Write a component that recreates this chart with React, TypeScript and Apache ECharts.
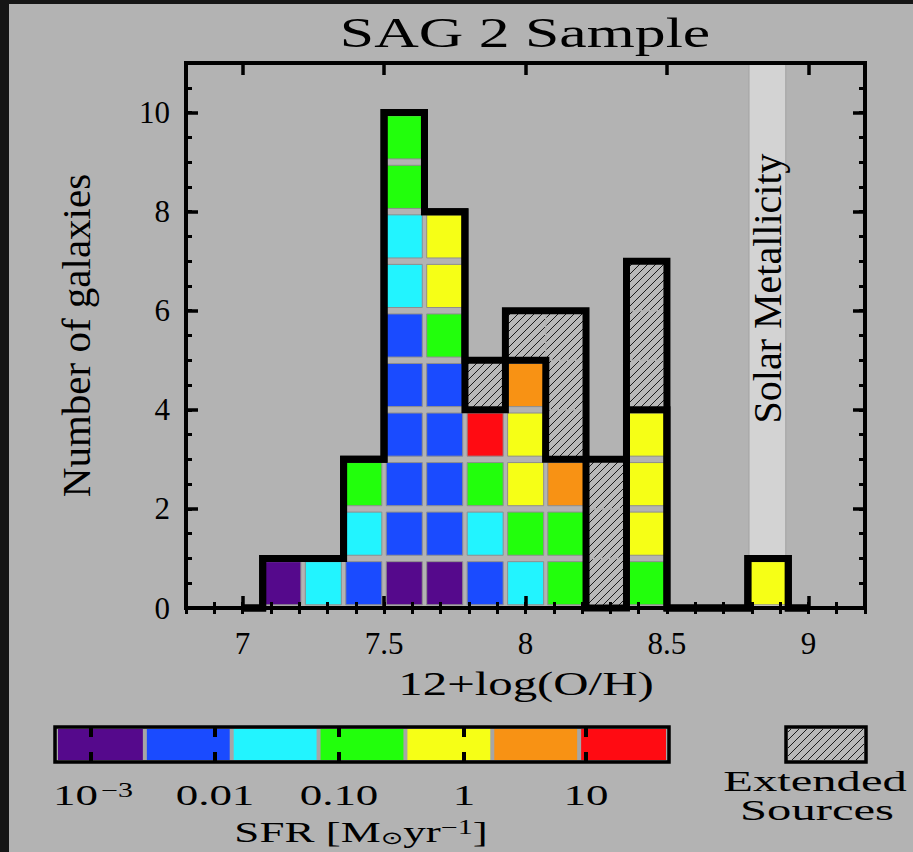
import React, { useEffect, useRef } from 'react';
import * as echarts from 'echarts';

// ---- data ----
// left edges of the 12+log(O/H) bins, and the bin width
const binLeft = [7.071, 7.214, 7.357, 7.5, 7.643, 7.786, 7.929, 8.071, 8.214, 8.357, 8.5, 8.643, 8.786];
const binWidth = 0.1429;
// SFR class of every (non-extended) galaxy in each bin, bottom to top
// 0 = 10^-3 ... 6 = highest SFR
const sfrClasses: number[][] = [
  [0],
  [2],
  [1, 2, 3],
  [0, 1, 1, 1, 1, 1, 2, 2, 3, 3],
  [0, 1, 1, 1, 1, 3, 4, 4],
  [1, 2, 3, 6],
  [2, 3, 4, 4, 5],
  [3, 3, 5],
  [],
  [3, 4, 4, 4],
  [],
  [],
  [4],
];
// extended sources stacked on top of each bin
const extendedCounts = [0, 0, 0, 0, 0, 1, 1, 3, 3, 3, 0, 0, 0];
const outlineStart = 7.0;
const outlineEnd = 9.0;
const solarBand = [8.79, 8.92];
const sfrColors = ['#55098c', '#1a4bff', '#22f4ff', '#22ff0c', '#f6ff16', '#f89214', '#ff0b12'];
const sfrTickLabels = ['10{sup|−3}', '0.01', '0.10', '1', '10'];
const xTickValues = [7, 7.5, 8, 8.5, 9];
const yTickValues = [0, 2, 4, 6, 8, 10];
const xMin = 6.8;
const xMax = 9.2;
const yMax = 11;

// ---- layout constants ----
const SERIF = '"Liberation Serif", "Times New Roman", serif';
const BG = '#b3b3b3';
const GRID = { left: 186, right: 48, top: 63, bottom: 244 };
const CB = { x0: 55, x1: 669, y0: 727, y1: 762 };
const CB_TICKS = [91, 215, 339, 464, 586];
const LEG = { x0: 786, x1: 866, y0: 727, y1: 762 };

function hatchLines(x0: number, y0: number, x1: number, y1: number, step: number, z?: number) {
  const out: any[] = [];
  for (let c = Math.ceil((x0 + y0) / step) * step; c <= x1 + y1; c += step) {
    const ax = Math.max(x0, c - y1);
    const ay = c - ax;
    const bx = Math.min(x1, c - y0);
    const by = c - bx;
    if (bx - ax > 0.5) {
      const el: any = {
        type: 'line',
        shape: { x1: ax, y1: ay, x2: bx, y2: by },
        style: { stroke: '#1c1c1c', lineWidth: 1 },
      };
      if (z !== undefined) el.z = z;
      out.push(el);
    }
  }
  return out;
}

function stepPoints(heights: number[]) {
  const pts: number[][] = [[outlineStart, 0]];
  let prev = 0;
  heights.forEach((h, i) => {
    const l = binLeft[i];
    const r = l + binWidth;
    pts.push([l, prev], [l, h], [r, h]);
    prev = h;
  });
  const lastR = binLeft[binLeft.length - 1] + binWidth;
  pts.push([lastR, 0], [outlineEnd, 0]);
  return pts;
}

export default function App() {
  const ref = useRef<HTMLDivElement>(null);
  useEffect(() => {
    const chart = echarts.init(ref.current!, null, { renderer: 'svg' });

    const cells: number[][] = [];
    sfrClasses.forEach((list, i) => {
      list.forEach((cls, j) => cells.push([binLeft[i], binLeft[i] + binWidth, j, cls]));
      for (let k = 0; k < extendedCounts[i]; k++) {
        cells.push([binLeft[i], binLeft[i] + binWidth, list.length + k, -1]);
      }
    });
    const coloredHeights = sfrClasses.map((l) => l.length);
    const totalHeights = sfrClasses.map((l, i) => l.length + extendedCounts[i]);

    const tickStyle = (len: number, w: number) => ({
      show: true,
      inside: true,
      length: len,
      lineStyle: { color: '#000', width: w },
    });
    const axisFont = { fontFamily: SERIF, fontSize: 31, color: '#000' };

    const minorX = (pos: string) => ({
      gridIndex: 0, type: 'value', min: xMin, max: xMax, interval: 0.1, position: pos,
      axisLine: { show: false }, axisTick: tickStyle(6, 3), axisLabel: { show: false },
      splitLine: { show: false }, z: 8,
    });
    const minorY = (pos: string) => ({
      gridIndex: 0, type: 'value', min: 0, max: yMax, interval: 0.5, position: pos,
      axisLine: { show: false }, axisTick: tickStyle(6, 3), axisLabel: { show: false },
      splitLine: { show: false }, z: 8,
    });
    const axisLine = { show: true, onZero: false, lineStyle: { color: '#000', width: 4, cap: 'square' } };

    const cellGapX = 2.2;
    const cellGapY = 3.2;

    const option: any = {
      animation: false,
      backgroundColor: BG,
      grid: [{ ...GRID }, { ...GRID }],
      xAxis: [
        minorX('bottom'),
        minorX('top'),
        {
          gridIndex: 1, type: 'value', min: xMin, max: xMax, position: 'bottom',
          axisLine,
          axisTick: { ...tickStyle(12, 3.5), customValues: xTickValues },
          axisLabel: { ...axisFont, margin: 20, customValues: xTickValues },
          splitLine: { show: false }, z: 8,
        },
        {
          gridIndex: 1, type: 'value', min: xMin, max: xMax, position: 'top',
          axisLine,
          axisTick: { ...tickStyle(12, 3.5), customValues: xTickValues },
          axisLabel: { show: false },
          splitLine: { show: false }, z: 8,
        },
      ],
      yAxis: [
        minorY('left'),
        minorY('right'),
        {
          gridIndex: 1, type: 'value', min: 0, max: yMax, position: 'left',
          axisLine,
          axisTick: { ...tickStyle(12, 3.5), customValues: yTickValues },
          axisLabel: { ...axisFont, margin: 16, customValues: yTickValues },
          splitLine: { show: false }, z: 8,
          name: 'Number of galaxies',
          nameLocation: 'middle',
          nameRotate: 90,
          nameGap: 90,
          nameTextStyle: { fontFamily: SERIF, fontSize: 41, color: '#000' },
        },
        {
          gridIndex: 1, type: 'value', min: 0, max: yMax, position: 'right',
          axisLine,
          axisTick: { ...tickStyle(12, 3.5), customValues: yTickValues },
          axisLabel: { show: false },
          splitLine: { show: false }, z: 8,
        },
      ],
      series: [
        {
          type: 'custom',
          name: 'Solar Metallicity',
          xAxisIndex: 2, yAxisIndex: 2,
          z: 1, silent: true,
          data: [[solarBand[0], solarBand[1]]],
          renderItem: (params: any, api: any) => {
            const a = api.value(0);
            const b = api.value(1);
            const p0 = api.coord([a, 0]);
            const p1 = api.coord([b, yMax]);
            const cx = (p0[0] + p1[0]) / 2;
            const mid = api.coord([(a + b) / 2, 6.45]);
            return {
              type: 'group',
              children: [
                {
                  type: 'rect',
                  shape: { x: p0[0], y: p1[1], width: p1[0] - p0[0], height: p0[1] - p1[1] },
                  style: { fill: '#d3d3d3', stroke: '#a2a2a2', lineWidth: 1 },
                },
                {
                  type: 'text',
                  x: cx, y: mid[1],
                  rotation: Math.PI / 2,
                  style: {
                    text: 'Solar Metallicity',
                    font: `40px ${SERIF}`,
                    fill: '#000',
                    textAlign: 'center', textVerticalAlign: 'middle',
                    align: 'center', verticalAlign: 'middle',
                  },
                },
              ],
            };
          },
        },
        {
          type: 'custom',
          name: 'galaxies',
          xAxisIndex: 2, yAxisIndex: 2,
          z: 3, silent: true,
          encode: { x: [0, 1], y: 2 },
          data: cells,
          renderItem: (params: any, api: any) => {
            const l = api.value(0);
            const r = api.value(1);
            const lv = api.value(2);
            const ci = api.value(3);
            const p0 = api.coord([l, lv]);
            const p1 = api.coord([r, lv + 1]);
            if (ci >= 0) {
              return {
                type: 'rect',
                shape: {
                  x: p0[0] + cellGapX, y: p1[1] + cellGapY,
                  width: p1[0] - p0[0] - 2 * cellGapX, height: p0[1] - p1[1] - 2 * cellGapY,
                },
                style: { fill: sfrColors[ci], stroke: '#8e8e8e', lineWidth: 1 },
              };
            }
            const x0 = p0[0] + 0.8, x1 = p1[0] - 0.8, y0 = p1[1] + 0.8, y1 = p0[1] - 0.8;
            return {
              type: 'group',
              children: [
                { type: 'rect', shape: { x: x0, y: y0, width: x1 - x0, height: y1 - y0 }, style: { fill: '#b9b9b9' } },
                ...hatchLines(x0, y0, x1, y1, 8),
              ],
            };
          },
        },
        {
          type: 'line',
          name: 'all',
          xAxisIndex: 2, yAxisIndex: 2,
          z: 5, silent: true, clip: false,
          symbol: 'none', showSymbol: false,
          data: stepPoints(totalHeights),
          lineStyle: { color: '#000', width: 7, join: 'miter', cap: 'butt' },
        },
        {
          type: 'line',
          name: 'non-extended',
          xAxisIndex: 2, yAxisIndex: 2,
          z: 5, silent: true, clip: false,
          symbol: 'none', showSymbol: false,
          data: stepPoints(coloredHeights),
          lineStyle: { color: '#000', width: 7, join: 'miter', cap: 'butt' },
        },
      ],
      graphic: [
        // dark frame edges
        { type: 'rect', shape: { x: 0, y: 0, width: 9, height: 852 }, style: { fill: '#161616' } },
        { type: 'rect', shape: { x: 0, y: 0, width: 913, height: 4 }, style: { fill: '#161616' } },
        // title
        {
          type: 'text', x: 525, y: 33, scaleX: 1.47,
          style: { text: 'SAG 2 Sample', font: `42px ${SERIF}`, fill: '#000', textAlign: 'center', textVerticalAlign: 'middle' },
        },
        // x axis title
        {
          type: 'text', x: 526, y: 684, scaleX: 1.48,
          style: { text: '12+log(O/H)', font: `33px ${SERIF}`, fill: '#000', textAlign: 'center', textVerticalAlign: 'middle' },
        },
        // colour bar
        {
          type: 'rect', shape: { x: CB.x0, y: CB.y0, width: CB.x1 - CB.x0, height: CB.y1 - CB.y0 },
          style: { fill: '#a6a6a6', stroke: '#000', lineWidth: 3.5 },
        },
        ...sfrColors.map((c, i) => {
          const inner0 = CB.x0 + 3;
          const w = (CB.x1 - CB.x0 - 6) / sfrColors.length;
          return {
            type: 'rect',
            shape: { x: inner0 + i * w + (i === 0 ? 0 : 2), y: CB.y0 + 2, width: w - (i === 0 || i === sfrColors.length - 1 ? 2 : 4), height: CB.y1 - CB.y0 - 4 },
            style: { fill: c },
          };
        }),
        ...CB_TICKS.flatMap((x) => [
          { type: 'rect', shape: { x: x - 2, y: CB.y0 + 1, width: 4, height: 9 }, style: { fill: '#000' } },
          { type: 'rect', shape: { x: x - 2, y: CB.y1 - 10, width: 4, height: 9 }, style: { fill: '#000' } },
        ]),
        ...sfrTickLabels.map((t, i) => ({
          type: 'text', x: CB_TICKS[i] + (i === 0 ? 2 : 0), y: 795, scaleX: 1.5,
          style: {
            text: t, font: `30px ${SERIF}`, fill: '#000', textAlign: 'center', textVerticalAlign: 'middle',
            rich: { sup: { font: `20px ${SERIF}`, fill: '#000', verticalAlign: 'top', padding: [0, 0, 10, 2] } },
          },
        })),
        {
          type: 'text', x: 361, y: 832, scaleX: 1.5,
          style: {
            text: 'SFR [M{sub|⊙}yr{sup|−1}]',
            font: `30px ${SERIF}`, fill: '#000', textAlign: 'center', textVerticalAlign: 'middle',
            rich: {
              sup: { font: `20px ${SERIF}`, fill: '#000', verticalAlign: 'top', padding: [0, 0, 10, 0] },
              sub: { font: `18px "DejaVu Sans", ${SERIF}`, fill: '#000', verticalAlign: 'bottom', padding: [8, 0, 0, 0] },
            },
          },
        },
        // extended sources legend
        {
          type: 'rect', shape: { x: LEG.x0, y: LEG.y0, width: LEG.x1 - LEG.x0, height: LEG.y1 - LEG.y0 },
          style: { fill: '#b9b9b9', stroke: '#000', lineWidth: 3.5 },
        },
        ...hatchLines(LEG.x0 + 2, LEG.y0 + 2, LEG.x1 - 2, LEG.y1 - 2, 8, 2),
        {
          type: 'text', x: 815, y: 781, scaleX: 1.62,
          style: { text: 'Extended', font: `30px ${SERIF}`, fill: '#000', textAlign: 'center', textVerticalAlign: 'middle' },
        },
        {
          type: 'text', x: 817, y: 810, scaleX: 1.62,
          style: { text: 'Sources', font: `30px ${SERIF}`, fill: '#000', textAlign: 'center', textVerticalAlign: 'middle' },
        },
      ],
    };
    chart.setOption(option);
    return () => chart.dispose();
  }, []);
  return <div ref={ref} style={{ position: 'absolute', left: 0, top: 0, width: 913, height: 852 }} />;
}
